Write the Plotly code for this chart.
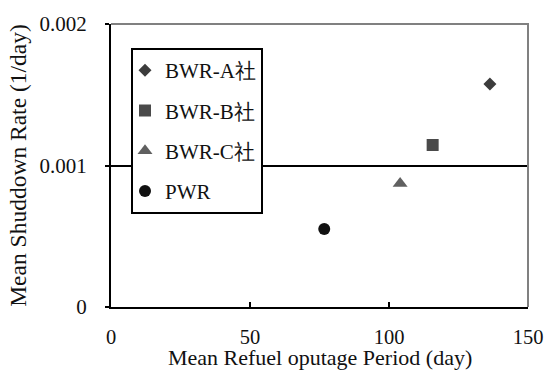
import plotly.graph_objects as go

series_names = ["BWR-A社", "BWR-B社", "BWR-C社", "PWR"]
outage_days = [136.3, 115.7, 104.0, 76.7]
shutdown_rate = [0.001576, 0.001145, 0.000872, 0.000551]
symbols = ["diamond", "square", "triangle-up", "circle"]
colors = ["#3c3c3c", "#4a4a4a", "#606060", "#111111"]
sizes = [10, 12, 13, 12]
x_ticks = [0, 50, 100, 150]
y_ticks = [0, 0.001, 0.002]
y_tick_text = ["0", "0.001", "0.002"]
x_title = "Mean Refuel oputage Period (day)"
y_title = "Mean Shuddown Rate (1/day)"

FONT = "Liberation Serif, serif"

fig = go.Figure()
for i, name in enumerate(series_names):
    fig.add_trace(go.Scatter(
        x=[outage_days[i]], y=[shutdown_rate[i]], mode="markers", name=name,
        legendgroup=name,
        marker=dict(symbol=symbols[i], color=colors[i], size=sizes[i], line=dict(width=0)),
    ))

fig.update_layout(
    width=545, height=370,
    margin=dict(l=111, r=17, t=24, b=63, autoexpand=False),
    paper_bgcolor="white", plot_bgcolor="white",
    font=dict(family=FONT, size=21, color="#111111"),
    showlegend=True,
    legend=dict(
        x=0.048, y=0.915, xanchor="left", yanchor="top",
        bordercolor="black", borderwidth=2, bgcolor="white",
        traceorder="grouped", tracegroupgap=10,
        font=dict(family=FONT, size=21, color="#111111"),
        itemwidth=30, indentation=-8,
    ),
    xaxis=dict(
        range=[0, 150], tickvals=x_ticks, ticktext=[str(v) for v in x_ticks],
        showline=True, linecolor="black", linewidth=2,
        ticks="inside", ticklen=5, tickwidth=2, tickcolor="black",
        showgrid=False, zeroline=False, ticklabelstandoff=10, automargin=False,
        tickfont=dict(family=FONT, size=20.5),
    ),
    yaxis=dict(
        range=[0, 0.002], tickvals=y_ticks, ticktext=y_tick_text,
        showline=True, linecolor="black", linewidth=2,
        ticks="outside", ticklen=4, tickwidth=2, tickcolor="black",
        showgrid=True, gridcolor="black", gridwidth=2, zeroline=False,
        ticklabelstandoff=14, automargin=False,
        title=dict(text=y_title, standoff=6, font=dict(family=FONT, size=23.5)),
    ),
    annotations=[dict(text=x_title, xref="paper", yref="paper", x=0.5, y=0,
                      xanchor="center", yanchor="top", yshift=-36, showarrow=False,
                      font=dict(family=FONT, size=22, color="#111111"))],
    shapes=[dict(type="path", xref="paper", yref="paper",
                 path="M 0,1 L 1,1 L 1,0", line=dict(color="#808080", width=2),
                 layer="above")],
)

fig.write_html("out.html")
